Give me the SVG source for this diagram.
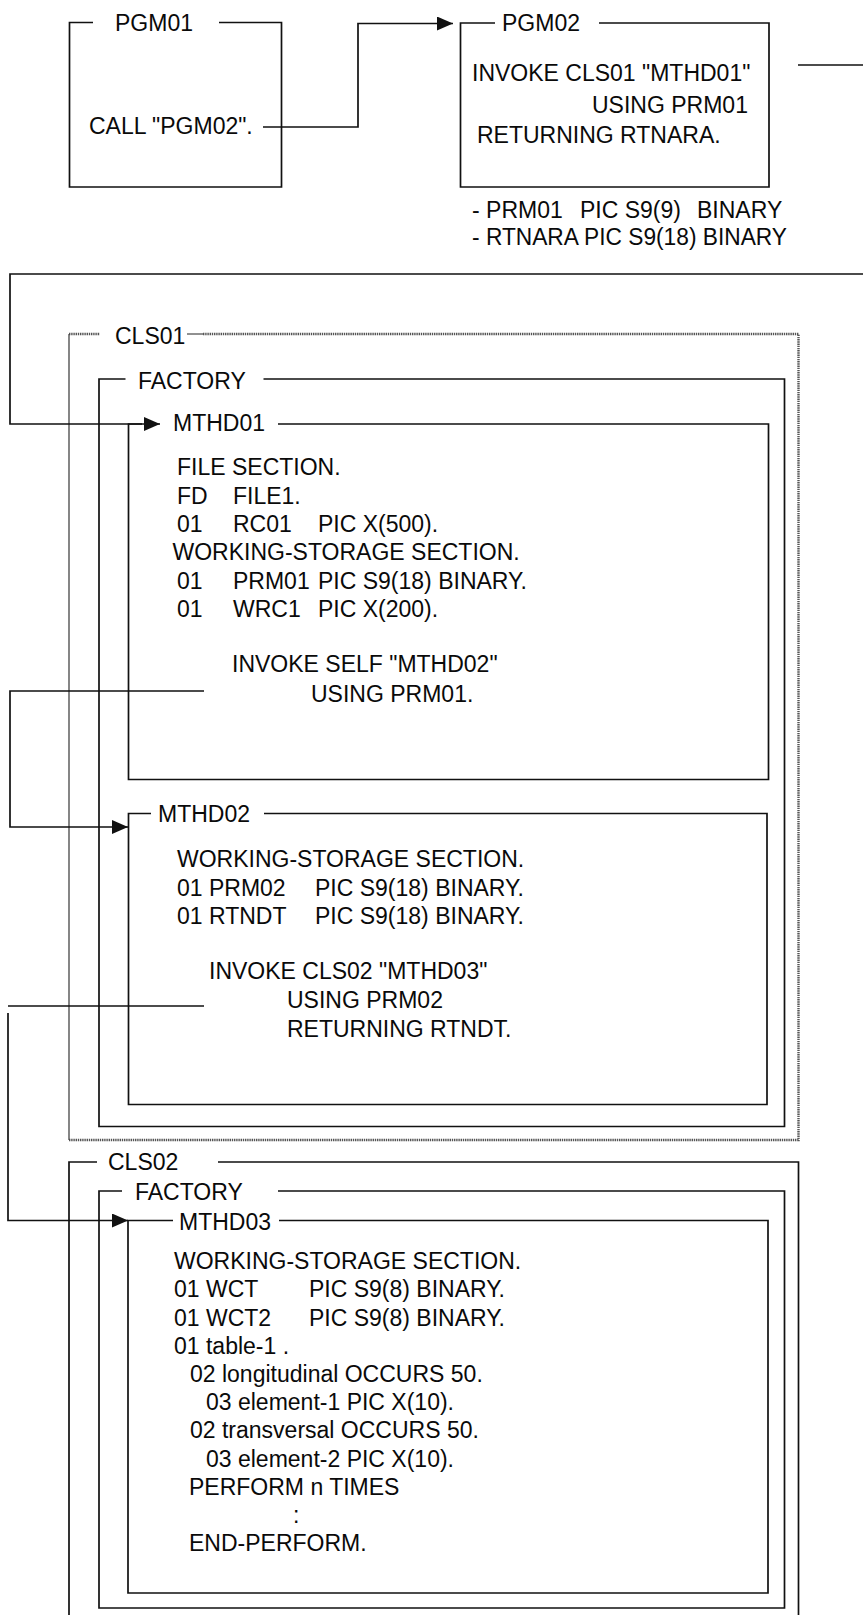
<svg xmlns="http://www.w3.org/2000/svg" width="863" height="1615" viewBox="0 0 863 1615">
<style>
text{font-family:"Liberation Sans",Arial,sans-serif;font-size:23px;fill:#0a0a0a}
.b{fill:none;stroke:#111;stroke-width:1.7}
.g{fill:none;stroke:#555;stroke-width:2.4;stroke-dasharray:1.4 0.8}
.c{fill:none;stroke:#111;stroke-width:1.7}
</style>
<defs>
<marker id="ah" markerUnits="userSpaceOnUse" markerWidth="16" markerHeight="14" refX="16" refY="7" orient="auto">
<path d="M0,0 L16,7 L0,14 z" fill="#111"/>
</marker>
</defs>
<rect width="863" height="1615" fill="#fff"/>

<g id="PGM01">
<path class="b" d="M219,22.5 H281.5 V187 H69.5 V22.5 H93"/>
<text x="115" y="31">PGM01</text>
<text x="89" y="134">CALL "PGM02".</text>
</g>

<g id="PGM02">
<path class="b" d="M599,23 H769 V187 H460.5 V23 H495"/>
<text x="502" y="31">PGM02</text>
<text x="472" y="81">INVOKE CLS01 "MTHD01"</text>
<text x="592" y="113">USING PRM01</text>
<text x="477" y="143">RETURNING RTNARA.</text>
<text x="472" y="218">- PRM01</text>
<text x="580" y="218">PIC S9(9)</text>
<text x="697" y="218">BINARY</text>
<text x="472" y="245" textLength="315" lengthAdjust="spacingAndGlyphs">- RTNARA PIC S9(18) BINARY</text>
</g>

<g id="CLS01">
<path class="g" d="M69,334 H100 M203,334 H798.5 V1140 H69"/>
<path fill="none" stroke="#444" stroke-width="1.3" d="M69,334 V1140"/>
<path fill="none" stroke="#222" stroke-width="1" d="M187,334 H203"/>
<text x="115" y="344">CLS01</text>
</g>

<g id="FACTORY1">
<path class="b" d="M263.5,379 H784.5 V1126.5 H99 V379 H125.5"/>
<text x="138" y="389">FACTORY</text>
</g>

<g id="MTHD01">
<path class="b" d="M278,424 H768.5 V779.5 H128.5 V424 H142"/>
<text x="173" y="431">MTHD01</text>
<text x="177" y="475">FILE SECTION.</text>
<text x="177" y="503.5">FD</text>
<text x="233" y="503.5">FILE1.</text>
<text x="177" y="532">01</text>
<text x="233" y="532">RC01</text>
<text x="318" y="532">PIC X(500).</text>
<text x="172.5" y="560">WORKING-STORAGE SECTION.</text>
<text x="177" y="588.5">01</text>
<text x="233" y="588.5">PRM01</text>
<text x="318" y="588.5">PIC S9(18) BINARY.</text>
<text x="177" y="617">01</text>
<text x="233" y="617">WRC1</text>
<text x="318" y="617">PIC X(200).</text>
<text x="232" y="672">INVOKE SELF "MTHD02"</text>
<text x="311" y="702">USING PRM01.</text>
</g>

<g id="MTHD02">
<path class="b" d="M264,813.5 H767 V1104.5 H128.5 V813.5 H151"/>
<text x="158" y="822">MTHD02</text>
<text x="177" y="867">WORKING-STORAGE SECTION.</text>
<text x="177" y="895.5">01 PRM02</text>
<text x="315" y="895.5">PIC S9(18) BINARY.</text>
<text x="177" y="924">01 RTNDT</text>
<text x="315" y="924">PIC S9(18) BINARY.</text>
<text x="209" y="979">INVOKE CLS02 "MTHD03"</text>
<text x="287" y="1008">USING PRM02</text>
<text x="287" y="1037">RETURNING RTNDT.</text>
</g>

<g id="CLS02">
<path class="b" d="M218,1162 H798.5 V1615 M69,1615 V1162 H97"/>
<text x="108" y="1170">CLS02</text>
</g>

<g id="FACTORY2">
<path class="b" d="M278,1191 H784.5 V1608 H99 V1191 H122"/>
<text x="135" y="1200">FACTORY</text>
</g>

<g id="MTHD03">
<path class="b" d="M279,1220.5 H768 V1593 H128 V1220.5 H173"/>
<text x="179" y="1230">MTHD03</text>
<text x="174" y="1268.5">WORKING-STORAGE SECTION.</text>
<text x="174" y="1297">01 WCT</text>
<text x="309" y="1297">PIC S9(8) BINARY.</text>
<text x="174" y="1325.5">01 WCT2</text>
<text x="309" y="1325.5">PIC S9(8) BINARY.</text>
<text x="174" y="1353.5">01 table-1 .</text>
<text x="190" y="1382">02 longitudinal OCCURS 50.</text>
<text x="206" y="1410">03 element-1 PIC X(10).</text>
<text x="190" y="1438">02 transversal OCCURS 50.</text>
<text x="206" y="1466.5">03 element-2 PIC X(10).</text>
<text x="189" y="1495">PERFORM n TIMES</text>
<text x="293" y="1523">:</text>
<text x="189" y="1551">END-PERFORM.</text>
</g>

<g id="connectors">
<path class="c" d="M263,127 H358 V23.5 H453" marker-end="url(#ah)"/>
<path class="c" d="M798,65 H863"/>
<path class="c" d="M863,274 H10 V424 H160" marker-end="url(#ah)"/>
<path class="c" d="M204,691 H10 V827 H128" marker-end="url(#ah)"/>
<path class="c" d="M204,1006 H8"/>
<path class="c" d="M8,1013 V1220.5 H128" marker-end="url(#ah)"/>
</g>
</svg>
